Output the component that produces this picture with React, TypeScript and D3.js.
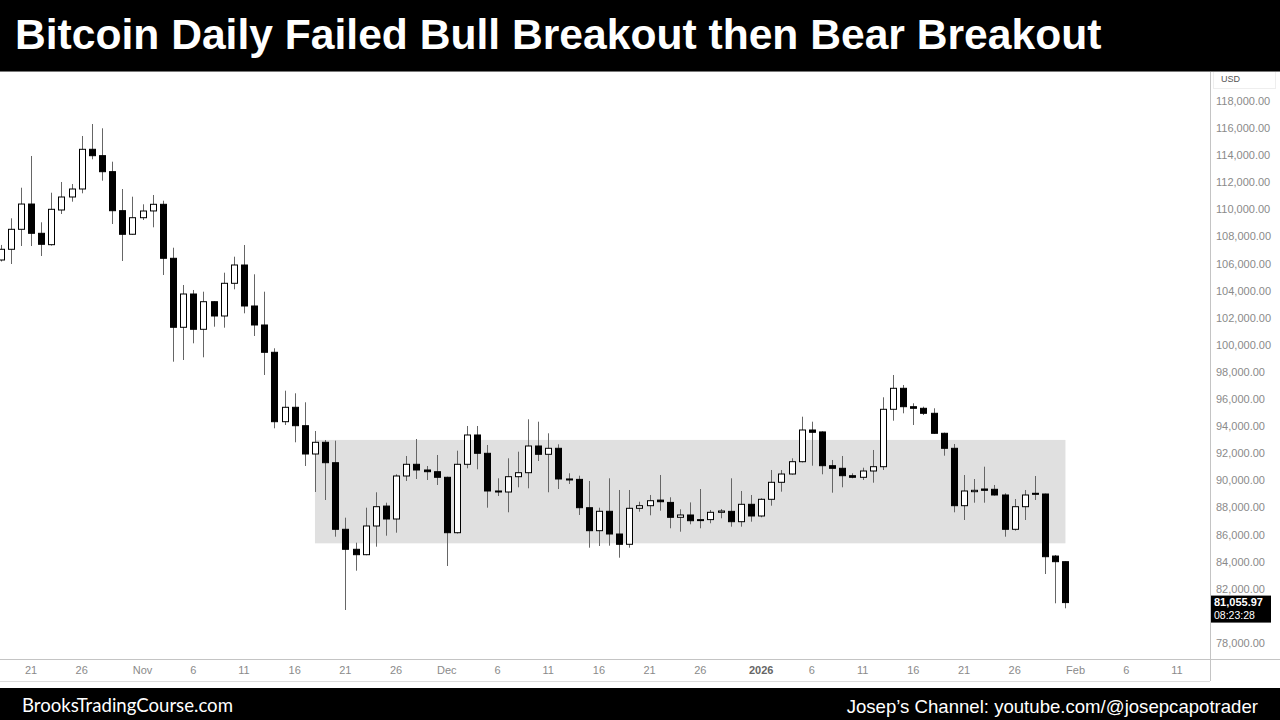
import React from 'react';
import * as d3 from 'd3';

const TITLE = 'Bitcoin Daily Failed Bull Breakout then Bear Breakout';
const FOOTER_LEFT = 'BrooksTradingCourse.com';
const FOOTER_RIGHT = 'Josep\u2019s Channel: youtube.com/@josepcapotrader';

// first candle date (daily candles, one per day)
const FIRST_DAY = '2025-10-18';

const opens = [
  106340, 107130, 108605, 110470, 108310, 107470, 110030, 110990, 111580, 114510,
  114040, 112860, 109980, 108240, 109460, 109960, 110450, 106465, 101373, 103830,
  101225, 103262, 102207, 104620, 105970, 102945, 101543, 99528, 94406, 95469,
  94111, 92022, 92886, 91380, 86465, 84989, 84591, 86709, 88180, 87225,
  90399, 91262, 90842, 90716, 90303, 86214, 91262, 93425, 92074, 89292,
  89218, 90347, 90642, 92613, 92000, 92443, 90180, 90150, 88059, 86362,
  87794, 86118, 85358, 88015, 88207, 88620, 88450, 87351, 87521, 87150,
  87180, 87719, 87790, 87026, 88310, 87447, 88679, 89934, 90546, 91454,
  93794, 93650, 91159, 90967, 90421, 90303, 90768, 91085, 95321, 96871,
  95513, 95395, 95026, 93550, 92443, 88207, 89241, 89439, 89417, 88997,
  86465, 88133, 89122, 89070, 84490, 84075,
];

const highs = [
  107450, 109417, 111675, 114015, 109122, 111306, 112096, 111948, 115491, 116376,
  116059, 113594, 111579, 111011, 110450, 111137, 110716, 107247, 104495, 104126,
  104000, 103300, 105402, 106583, 107447, 105284, 104000, 99823, 96694, 96502,
  95838, 93720, 93056, 93004, 87321, 85476, 88059, 89196, 88428, 90524,
  91875, 93129, 91137, 91949, 90350, 92266, 94089, 94089, 92687, 90229,
  91705, 92192, 94583, 94406, 93550, 92738, 90598, 90421, 90030, 88059,
  90229, 89366, 89366, 88501, 88997, 90473, 88827, 87941, 88450, 89439,
  87890, 87963, 90229, 89292, 88997, 88753, 90842, 90842, 91705, 94775,
  94406, 93700, 91580, 91875, 90598, 91011, 92318, 96207, 97853, 97115,
  95764, 95513, 95395, 93600, 92760, 90473, 90177, 91085, 89735, 89122,
  88701, 89366, 90399, 89100, 84570, 84100,
];

const lows = [
  106229, 106044, 107373, 107370, 106635, 107400, 109734, 110642, 111262, 113771,
  112192, 108996, 106266, 108200, 109292, 108753, 105233, 98834, 98960, 100192,
  99159, 101417, 101343, 104177, 102406, 100731, 97853, 93919, 94163, 92886,
  91137, 89218, 88628, 85919, 80510, 83410, 84550, 85181, 85993, 86214,
  90030, 90177, 90104, 89735, 83757, 86150, 90967, 90893, 88059, 88923,
  87719, 89565, 89491, 91506, 89196, 89439, 89808, 87521, 85107, 85233,
  85255, 84369, 85107, 87764, 87498, 87838, 86539, 86288, 86834, 86539,
  86909, 87277, 86657, 86657, 87026, 87351, 88207, 89241, 90500, 91400,
  91159, 90524, 89166, 89565, 90229, 90104, 89904, 90842, 94480, 95026,
  94163, 94901, 93500, 91897, 87719, 87152, 88428, 88428, 88950, 85919,
  86362, 87152, 88628, 83166, 81004, 80635,
];

const closes = [
  107130, 108605, 110470, 108310, 107498, 110081, 110989, 111579, 114509, 114037,
  112856, 109978, 108236, 109461, 109956, 110450, 106465, 101373, 103830, 101225,
  103262, 102207, 104620, 105971, 102945, 101543, 99528, 94406, 95469, 94111,
  92022, 92886, 91380, 86465, 84989, 84591, 86709, 88133, 87225, 90399,
  91262, 90842, 90716, 90303, 86214, 91262, 93425, 92074, 89292, 89218,
  90347, 90642, 92613, 92000, 92443, 90177, 90150, 88059, 86362, 87794,
  86118, 85358, 88015, 88207, 88575, 88501, 87351, 87521, 87099, 87180,
  87719, 87816, 87026, 88310, 87447, 88679, 89934, 90546, 91454, 93794,
  93624, 91159, 90967, 90421, 90303, 90768, 91085, 95321, 96871, 95513,
  95395, 95026, 93550, 92443, 88207, 89292, 89343, 89343, 88997, 86465,
  88133, 88997, 89048, 84443, 84075, 81055.97,
];

// trading range box
const RANGE_START = '2025-11-18';
const RANGE_END = '2026-01-31';
const RANGE_LOW = 85430;
const RANGE_HIGH = 93060;

const LAST_PRICE = 81055.97;
const COUNTDOWN = '08:23:28';

const priceTicks = [
  78000, 80000, 82000, 84000, 86000, 88000, 90000, 92000, 94000, 96000,
  98000, 100000, 102000, 104000, 106000, 108000, 110000, 112000, 114000, 116000, 118000,
];

const dateTicks = [
  '2025-10-21', '2025-10-26', '2025-11-01', '2025-11-06', '2025-11-11', '2025-11-16',
  '2025-11-21', '2025-11-26', '2025-12-01', '2025-12-06', '2025-12-11', '2025-12-16',
  '2025-12-21', '2025-12-26', '2026-01-01', '2026-01-06', '2026-01-11', '2026-01-16',
  '2026-01-21', '2026-01-26', '2026-02-01', '2026-02-06', '2026-02-11',
];

const parse = d3.timeParse('%Y-%m-%d');
const monthFmt = d3.timeFormat('%b');
const yearFmt = d3.timeFormat('%Y');
const dayFmt = d3.timeFormat('%-d');

export default function App() {
  const W = 1280;
  const H = 720;
  const plotTop = 72;
  const axisX = 1210;
  const xAxisTop = 659;
  const xAxisBottom = 681;

  const x = d3
    .scaleTime()
    .domain([parse('2025-10-21') as Date, parse('2026-02-11') as Date])
    .range([31, 1177]);
  const y = d3.scaleLinear().domain([78000, 118000]).range([644, 102]);

  const first = parse(FIRST_DAY) as Date;
  const candles = opens.map((o, i) => ({
    date: d3.timeDay.offset(first, i),
    o,
    h: highs[i],
    l: lows[i],
    c: closes[i],
  }));

  const bodyW = 6;
  const priceFmt = d3.format(',.2f');

  const rx0 = x(parse(RANGE_START) as Date);
  const rx1 = x(parse(RANGE_END) as Date);
  const ry0 = y(RANGE_HIGH);
  const ry1 = y(RANGE_LOW);

  const lastY = y(LAST_PRICE);
  const boxTop = lastY - 7;
  const boxBottom = lastY + 20;

  return (
    <svg
      width={W}
      height={H}
      style={{ position: 'absolute', left: 0, top: 0, background: '#fff' }}
      fontFamily="'Liberation Sans', Arial, sans-serif"
    >
      <rect x={0} y={0} width={W} height={H} fill="#ffffff" />

      {/* range box */}
      <rect x={rx0} y={ry0} width={rx1 - rx0} height={ry1 - ry0} fill="#e0e0e0" />

      {/* candles */}
      <g>
        {candles.map((d, i) => {
          const cx = Math.round(x(d.date));
          const bull = d.c >= d.o;
          const top = y(Math.max(d.o, d.c));
          const bot = y(Math.min(d.o, d.c));
          const bh = Math.max(1, bot - top);
          return (
            <g key={i}>
              <line
                x1={cx + 0.5}
                x2={cx + 0.5}
                y1={y(d.h)}
                y2={y(d.l)}
                stroke="#666"
                strokeWidth={1}
              />
              <rect
                x={cx - 3 + 0.5}
                y={top}
                width={bodyW}
                height={bh}
                fill={bull ? '#ffffff' : '#000000'}
                stroke="#000"
                strokeWidth={1}
              />
            </g>
          );
        })}
      </g>

      {/* axes frame */}
      <line x1={axisX + 0.5} x2={axisX + 0.5} y1={plotTop} y2={xAxisBottom} stroke="#c4c4c4" />
      <line x1={0} x2={W} y1={xAxisTop + 0.5} y2={xAxisTop + 0.5} stroke="#c4c4c4" />
      <line x1={0} x2={axisX} y1={xAxisBottom + 0.5} y2={xAxisBottom + 0.5} stroke="#dcdcdc" />

      {/* y axis labels */}
      <rect x={1213.5} y={71.5} width={62} height={17} fill="#fff" stroke="#eeeeee" />
      <text x={1221} y={80} fontSize={9} fill="#555" dominantBaseline="middle">
        USD
      </text>
      {priceTicks
        .filter((p) => y(p) + 4 < boxTop || y(p) - 4 > boxBottom)
        .map((p) => (
          <text
            key={p}
            x={1216}
            y={y(p)}
            fontSize={11}
            fill="#8a8a8a"
            dominantBaseline="middle"
          >
            {priceFmt(p)}
          </text>
        ))}

      {/* last price label */}
      <rect x={axisX + 1} y={boxTop} width={60} height={boxBottom - boxTop} fill="#000" />
      <text x={1214} y={lastY + 1} fontSize={11} fontWeight="bold" fill="#fff" dominantBaseline="middle">
        {priceFmt(LAST_PRICE)}
      </text>
      <text x={1214} y={lastY + 13.5} fontSize={10.5} fill="#fff" dominantBaseline="middle">
        {COUNTDOWN}
      </text>

      {/* x axis labels */}
      {dateTicks.map((s) => {
        const d = parse(s) as Date;
        const isYear = d.getMonth() === 0 && d.getDate() === 1;
        const label = isYear ? yearFmt(d) : d.getDate() === 1 ? monthFmt(d) : dayFmt(d);
        return (
          <text
            key={s}
            x={x(d)}
            y={671}
            fontSize={11}
            textAnchor="middle"
            dominantBaseline="middle"
            fill={isYear ? '#666' : '#8a8a8a'}
            fontWeight={isYear ? 'bold' : 'normal'}
          >
            {label}
          </text>
        );
      })}

      {/* title bar */}
      <rect x={0} y={0} width={W} height={71} fill="#000" />
      <line x1={0} x2={W} y1={71.5} y2={71.5} stroke="#777" />
      <text x={15} y={49} fontSize={42.6} fontWeight="bold" fill="#fff">
        {TITLE}
      </text>

      {/* footer */}
      <rect x={0} y={688} width={W} height={32} fill="#000" />
      <text x={22} y={712} fontSize={18.6} fill="#fff" fontFamily="Lato, 'Open Sans', sans-serif">
        {FOOTER_LEFT}
      </text>
      <text x={1258} y={713} fontSize={18.6} fill="#fff" textAnchor="end">
        {FOOTER_RIGHT}
      </text>
    </svg>
  );
}
